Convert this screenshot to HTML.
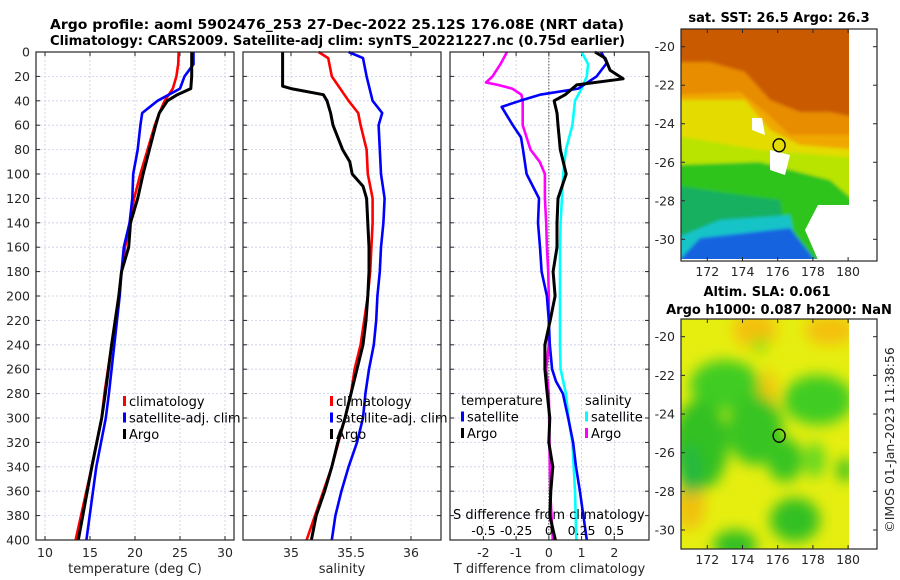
<!DOCTYPE html>
<html><head><meta charset="utf-8">
<style>
html,body{margin:0;padding:0;background:#fff;}
svg{display:block;font-family:"DejaVu Sans","Liberation Sans",sans-serif;}
</style></head>
<body>
<svg id="fig" width="900" height="580" viewBox="0 0 900 580" xmlns="http://www.w3.org/2000/svg">
<defs>
<filter id="blur4" x="-20%" y="-20%" width="140%" height="140%"><feGaussianBlur stdDeviation="7"/></filter>
<filter id="blur2"><feGaussianBlur stdDeviation="1.5"/></filter>
<clipPath id="clipM1"><rect x="681" y="29" width="168" height="230"/></clipPath>
<clipPath id="clipM2"><rect x="681" y="319" width="168" height="230"/></clipPath>
</defs>
<g id="titles" font-weight="bold" font-size="13" fill="#000">
<text x="50" y="29" textLength="574" lengthAdjust="spacingAndGlyphs">Argo profile: aoml 5902476_253 27-Dec-2022 25.12S 176.08E (NRT data)</text>
<text x="50" y="45" textLength="575" lengthAdjust="spacingAndGlyphs">Climatology: CARS2009. Satellite-adj clim: synTS_20221227.nc (0.75d earlier)</text>
<text x="779" y="22" text-anchor="middle">sat. SST: 26.5 Argo: 26.3</text>
<text x="767" y="296" text-anchor="middle">Altim. SLA: 0.061</text>
<text x="779" y="314" text-anchor="middle">Argo h1000: 0.087 h2000: NaN</text>
</g>
<g id="panels"></g>
<g id="maps"></g>
<text transform="translate(894,440) rotate(-90)" text-anchor="middle" font-size="12.5" fill="#262626">©IMOS 01-Jan-2023 11:38:56</text>
</svg>
<script>
// ---------- data ----------
const depthTicks = [0,20,40,60,80,100,120,140,160,180,200,220,240,260,280,300,320,340,360,380,400];
const tempTicks = [10,15,20,25,30];
const salTicks = [35,35.5,36];
const salTickLabels = ["35","35.5","36"];
const tdiffTicks = [-2,-1,0,1,2];
const sdiffTicks = [-0.5,-0.25,0,0.25,0.5];
const sdiffTickLabels = ["-0.5","-0.25","0","0.25","0.5"];

const tempClimDepth = [0,10,20,30,40,50,60,80,100,120,140,160,180,200,240,280,300,340,400];
const tempClim      = [24.85,24.8,24.6,24.2,23.3,22.7,22.2,21.4,20.6,19.9,19.4,18.9,18.5,18.2,17.4,16.6,16.3,15.2,13.4];
const tempSatDepth  = [0,10,20,30,40,50,60,80,100,120,140,160,180,200,240,280,300,340,400];
const tempSat       = [26.5,26.5,25.5,25.0,22.5,20.8,20.6,20.3,19.8,19.7,19.4,18.75,18.5,18.3,17.7,17.1,16.75,15.7,14.6];
const tempArgoDepth = [0,10,20,30,35,40,50,60,80,100,120,140,160,180,200,240,280,300,340,400];
const tempArgo      = [26.3,26.3,26.3,26.2,24.7,23.6,22.7,22.3,21.6,20.9,20.3,19.5,19.3,18.5,18.2,17.4,16.7,16.3,15.2,13.7];

const salClimDepth = [0,5,20,40,50,60,80,100,120,140,160,180,200,240,260,280,300,340,400];
const salClim      = [35.23,35.31,35.34,35.48,35.56,35.58,35.63,35.64,35.68,35.68,35.67,35.66,35.64,35.58,35.53,35.5,35.45,35.34,35.13];
const salSatDepth  = [0,5,20,40,50,60,80,100,120,140,160,180,200,220,240,260,280,300,320,340,360,380,400];
const salSat       = [35.48,35.6,35.63,35.68,35.76,35.73,35.74,35.75,35.78,35.77,35.75,35.74,35.72,35.71,35.69,35.65,35.62,35.6,35.55,35.48,35.42,35.37,35.34];
const salArgoDepth = [0,28,30,35,40,50,60,80,90,100,110,120,140,160,180,200,220,240,260,280,300,320,340,360,380,400];
const salArgo      = [34.93,34.93,35.0,35.27,35.3,35.33,35.35,35.43,35.49,35.51,35.6,35.63,35.64,35.65,35.65,35.64,35.625,35.6,35.55,35.5,35.45,35.39,35.34,35.28,35.21,35.17];

const tdiffSatDepth  = [0,9,20,30,35,40,45,60,70,80,100,120,140,160,180,200,220,240,260,270,280,300,320,340,360,400];
const tdiffSat       = [1.6,1.77,1.46,0.9,-0.27,-0.88,-1.44,-1.1,-0.85,-0.79,-0.68,-0.3,-0.33,-0.27,-0.22,-0.06,0.0,0.03,0.1,0.22,0.43,0.59,0.74,0.83,0.95,1.16];
const tdiffArgoDepth = [0,5,15,22,27,35,40,50,60,80,100,120,140,160,180,200,220,240,260,280,300,320,340,360,380,400];
const tdiffArgo      = [1.41,1.72,1.87,2.27,0.85,0.5,0.16,0.25,0.28,0.35,0.53,0.28,0.25,0.25,0.13,0.19,0.04,-0.12,-0.12,-0.05,0.03,0.0,0.12,0.06,0.03,0.2];
const sdiffSatDepth  = [0,10,20,30,40,50,60,80,100,120,140,160,200,240,260,280,300,320,340,360,400];
const sdiffSat       = [0.25,0.3,0.29,0.25,0.2,0.19,0.18,0.13,0.11,0.1,0.09,0.085,0.085,0.085,0.09,0.13,0.15,0.18,0.19,0.2,0.21];
const sdiffArgoDepth = [0,10,20,25,27,30,35,40,60,70,80,90,100,120,140,160,180,200,240,260,280,320,360,400];
const sdiffArgo      = [-0.32,-0.37,-0.43,-0.48,-0.39,-0.28,-0.21,-0.2,-0.2,-0.17,-0.14,-0.07,-0.03,-0.03,-0.02,-0.015,-0.005,0.0,0.0,-0.02,0.0,0.005,0.01,0.03];

const mapLonTicks = [172,174,176,178,180];
const mapLatTicks = [-20,-22,-24,-26,-28,-30];
const argoLon = 176.08, argoLat = -25.12;

// ---------- helpers ----------
const NS = "http://www.w3.org/2000/svg";
function mk(tag, attrs, parent){const e=document.createElementNS(NS,tag);for(const k in attrs)e.setAttribute(k,attrs[k]);if(parent)parent.appendChild(e);return e;}
const panelsG = document.getElementById('panels');
const mapsG = document.getElementById('maps');

const Y0=52, Y1=540;
function yD(d){return Y0+(d/400)*(Y1-Y0);}
const panels = [
 {name:'temperature', x0:36, x1:234, vmin:9.0, vmax:31.0},
 {name:'salinity', x0:243, x1:441, vmin:34.6, vmax:36.25},
 {name:'difference', x0:450, x1:649, vmin:-3.02, vmax:3.06}
];
function xScale(p){return v=>p.x0+(v-p.vmin)/(p.vmax-p.vmin)*(p.x1-p.x0);}
const xT = xScale(panels[0]), xS = xScale(panels[1]), xTd = xScale(panels[2]);
function xSd(v){return xTd(v*4);}

function drawPanel(p, ticks, labels, gridCol, xf, xlabel){
  const g = mk('g',{},panelsG);
  
  
  ticks.forEach(t=>{
    const l=mk('line',{x1:xf(t),x2:xf(t),y1:Y0,y2:Y1,stroke:gridCol,'stroke-width':0.8,'stroke-dasharray':'2,2'},g);
    
    
  });
  depthTicks.forEach(d=>{
    const l=mk('line',{x1:p.x0,x2:p.x1,y1:yD(d),y2:yD(d),stroke:'#c8cde8','stroke-width':0.8,'stroke-dasharray':'2,2'},g);
    
    
    mk('line',{x1:p.x0,x2:p.x0+4,y1:yD(d),y2:yD(d),stroke:'#262626','stroke-width':1},g);
    mk('line',{x1:p.x1-4,x2:p.x1,y1:yD(d),y2:yD(d),stroke:'#262626','stroke-width':1},g);
  });
  ticks.forEach((t,i)=>{
    mk('line',{x1:xf(t),x2:xf(t),y1:Y1,y2:Y1-4,stroke:'#262626','stroke-width':1},g);
    mk('line',{x1:xf(t),x2:xf(t),y1:Y0,y2:Y0+4,stroke:'#262626','stroke-width':1},g);
    const tx=mk('text',{x:xf(t),y:557,'text-anchor':'middle','font-size':12.5,fill:'#262626'},g);
    tx.textContent=labels[i];
    
    
  });
  const xl=mk('text',{x:(p.x0+p.x1)/2,y:573,'text-anchor':'middle','font-size':13,fill:'#262626'},g);
  xl.textContent=xlabel;
  
  
  return g;
}
function frame(p,g){
  const r=mk('rect',{x:p.x0,y:Y0,width:p.x1-p.x0,height:Y1-Y0,fill:'none',stroke:'#262626','stroke-width':1.2},g);
  
  
}
function line(g, depths, vals, xf, color, name, w){
  const pts = depths.map((d,i)=>xf(vals[i]).toFixed(1)+','+yD(d).toFixed(1)).join(' ');
  const pl = mk('polyline',{points:pts,fill:'none',stroke:color,'stroke-width':w||2.6,'stroke-linejoin':'round'},g);
  
  
}
function legend(g, x, y, items){
  items.forEach((it,i)=>{
    const yy=y+i*16.5;
    if(it[0]){
      const m=mk('rect',{x:x,y:yy-10,width:3,height:10,fill:it[0]},g);
      
      
    }
    const t=mk('text',{x:x+(it[0]?6:0),y:yy,'font-size':13,fill:'#000'},g);
    t.textContent=it[1];
    
    
  });
}

depthTicks.forEach(d=>{
  const t=mk('text',{x:30,y:yD(d)+4.5,'text-anchor':'end','font-size':12.5,fill:'#262626'},panelsG);
  t.textContent=d;
  
  
});

let g1 = drawPanel(panels[0], tempTicks, tempTicks.map(String), '#d6c8e0', xT, 'temperature (deg C)');
line(g1,tempClimDepth,tempClim,xT,'#ff0000','temp-climatology-line');
line(g1,tempSatDepth,tempSat,xT,'#0000ff','temp-satellite-line');
line(g1,tempArgoDepth,tempArgo,xT,'#000000','temp-argo-line',3);
legend(g1,123,406,[['#ff0000','climatology'],['#0000ff','satellite-adj. clim'],['#000','Argo']]);
frame(panels[0],g1);

let g2 = drawPanel(panels[1], salTicks, salTickLabels, '#d6c8e0', xS, 'salinity');
line(g2,salClimDepth,salClim,xS,'#ff0000','sal-climatology-line');
line(g2,salSatDepth,salSat,xS,'#0000ff','sal-satellite-line');
line(g2,salArgoDepth,salArgo,xS,'#000000','sal-argo-line',3);
legend(g2,330,406,[['#ff0000','climatology'],['#0000ff','satellite-adj. clim'],['#000','Argo']]);
frame(panels[1],g2);

let g3 = drawPanel(panels[2], tdiffTicks, tdiffTicks.map(String), '#d6c8e0', xTd, 'T difference from climatology');
const zl=mk('line',{x1:xTd(0),x2:xTd(0),y1:Y0,y2:Y1,stroke:'#555','stroke-width':1,'stroke-dasharray':'1.5,1.5'},g3);


line(g3,sdiffArgoDepth,sdiffArgo,xSd,'#ff00ff','sdiff-argo-line');
line(g3,sdiffSatDepth,sdiffSat,xSd,'#00ffff','sdiff-satellite-line');
line(g3,tdiffSatDepth,tdiffSat,xTd,'#0000ff','tdiff-satellite-line');
line(g3,tdiffArgoDepth,tdiffArgo,xTd,'#000000','tdiff-argo-line',3);
legend(g3,461,405,[[null,'temperature'],['#0000ff','satellite'],['#000','Argo']]);
legend(g3,585,405,[[null,'salinity'],['#00ffff','satellite'],['#ff00ff','Argo']]);
const st=mk('text',{x:xTd(0)+0,y:519,'text-anchor':'middle','font-size':13,fill:'#000'},g3);
st.textContent='S difference from climatology';


sdiffTicks.forEach((t,i)=>{
  const tx=mk('text',{x:xSd(t),y:535,'text-anchor':'middle','font-size':12.5,fill:'#000'},g3);
  tx.textContent=sdiffTickLabels[i];
  
  
});
frame(panels[2],g3);

// ---------- maps ----------
function lonX(lon){return 707.3+(lon-172)*17.6;}
function mapAxes(lat20,lat30,name){
  const g=mk('g',{},mapsG);
  
  
  const latY=lat=>lat20+(lat+20)/(-10)*(lat30-lat20);
  return {g,latY};
}
function finishMap(m,top,bottom){
  const g=m.g;
  mapLatTicks.forEach(l=>{
    const y=m.latY(l);
    mk('line',{x1:681,x2:685,y1:y,y2:y,stroke:'#262626'},g);
    mk('line',{x1:873,x2:877,y1:y,y2:y,stroke:'#262626'},g);
    const t=mk('text',{x:675,y:y+4.5,'text-anchor':'end','font-size':12.5,fill:'#262626'},g);
    t.textContent=l;
    
    
  });
  mapLonTicks.forEach(l=>{
    const x=lonX(l);
    mk('line',{x1:x,x2:x,y1:bottom,y2:bottom-4,stroke:'#262626'},g);
    mk('line',{x1:x,x2:x,y1:top,y2:top+4,stroke:'#262626'},g);
    const t=mk('text',{x:x,y:bottom+15,'text-anchor':'middle','font-size':12.5,fill:'#262626'},g);
    t.textContent=l;
    
    
  });
  const c=mk('ellipse',{cx:lonX(argoLon),cy:m.latY(argoLat),rx:6,ry:6.5,fill:'none',stroke:'#000','stroke-width':1.4},g);
  
  
  mk('rect',{x:681,y:top,width:196,height:bottom-top,fill:'none',stroke:'#262626','stroke-width':1.2},g);
}

// SST map
const m1=mapAxes(46.7,239.3,'sst-map');
const s1=mk('g',{'clip-path':'url(#clipM1)'},m1.g);
const s1b=mk('g',{filter:'url(#blur2)'},s1);
[
 ['#e88c00','671,19 859,19 859,269 671,269'],
 ['#c95a05','671,19 859,19 859,118 830,112 800,112 770,100 745,72 710,62 671,62'],
 ['#f0a800','671,95 740,92 765,112 790,135 859,135 859,269 671,269'],
 ['#e4dc00','671,100 745,100 770,130 800,145 859,150 859,269 671,269'],
 ['#b8e400','671,135 760,150 859,158 859,269 671,269'],
 ['#2ec41a','671,165 760,162 830,180 859,205 859,269 671,269'],
 ['#12b060','671,185 740,195 780,200 790,269 671,269'],
 ['#14c4c8','720,220 790,215 800,269 671,269 671,240'],
 ['#1464e0','700,238 790,228 822,269 671,269']
].forEach(p=>{
  const pg=mk('polygon',{points:p[1],fill:p[0]},s1b);
  
  
});
[
 ['#ffffff','818,205 859,205 859,269 822,269 805,230'],
 ['#ffffff','770,150 790,155 785,175 770,170'],
 ['#ffffff','752,118 762,118 765,135 752,130']
].forEach(p=>{
  const pg=mk('polygon',{points:p[1],fill:p[0]},s1);
  
  
});
finishMap(m1,29,261);

// SLA map
const m2=mapAxes(336.7,530,'sla-map');
const s2=mk('g',{'clip-path':'url(#clipM2)'},m2.g);
mk('rect',{x:681,y:319,width:168,height:230,fill:'#e6ee10'},s2);
const fb=mk('g',{filter:'url(#blur4)'},s2);
[
 ['#f4c010',755,330,22,18],['#f4c010',830,330,25,15],['#f0c810',768,395,10,25],['#f0c010',690,505,15,25],
 ['#40cc20',725,385,35,25],['#30c020',700,445,28,45],['#38c420',755,430,28,35],['#38c420',785,460,18,22],
 ['#40cc20',818,400,35,25],['#30c020',795,520,25,22],['#30c020',735,545,22,15],['#60d820',815,460,10,18],
 ['#90e010',760,345,8,8],['#30c020',845,470,8,12],['#28b840',690,470,12,25]
].forEach(b=>{
  const e=mk('ellipse',{cx:b[1],cy:b[2],rx:b[3],ry:b[4],fill:b[0]},fb);
  
  
});
finishMap(m2,319,549);
</script>
</body></html>
